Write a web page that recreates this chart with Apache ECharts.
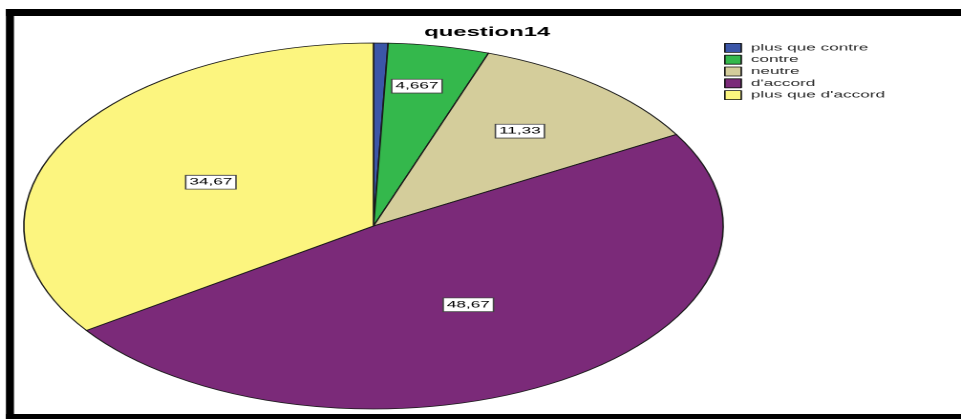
<!DOCTYPE html>
<html>
<head>
<meta charset="utf-8">
<script src="https://cdn.jsdelivr.net/npm/echarts@6/dist/echarts.min.js"></script>
<style>
  html, body { margin: 0; padding: 0; background: #ffffff; overflow: hidden; }
  #wrap { position: relative; width: 961px; height: 419px; overflow: hidden; }
  /* the reference picture is a horizontally stretched SPSS chart: draw it narrow, then stretch */
  #chart { position: absolute; left: 0; top: 0; width: 503px; height: 419px;
           transform: scaleX(1.9105); transform-origin: 0 0; }
</style>
</head>
<body>
<div id="wrap"><div id="chart"></div></div>
<script>
// ---- data ----
const chartTitle = 'question14';
const categories = ['plus que contre', 'contre', 'neutre', "d'accord", "plus que d'accord"];
const percentages = [0.667, 4.667, 11.33, 48.67, 34.67];

// ---- style ----
const sliceColors = ['#3b56a8', '#34b84c', '#d4cd9b', '#7b2a79', '#fcf57f'];
const labelVisible = [false, true, true, true, true];
const labelNudge = [[0, 0], [5, -47], [16.4, -22], [-1, -1], [-1.4, 0]];
const FONT = 'Liberation Sans, Arial, sans-serif';

const chart = echarts.init(document.getElementById('chart'), null, { devicePixelRatio: 2, renderer: 'canvas' });

const pieData = categories.map((name, i) => ({
  name: name,
  value: percentages[i],
  itemStyle: { color: sliceColors[i] },
  label: { show: labelVisible[i], offset: labelNudge[i] }
}));

chart.setOption({
  backgroundColor: 'transparent',
  animation: false,
  title: {
    text: chartTitle,
    left: 222,
    top: 26,
    padding: 0,
    textStyle: { fontFamily: FONT, fontSize: 12.5, fontWeight: 'bold', color: '#000' }
  },
  legend: {
    orient: 'vertical',
    left: 379,
    top: 43,
    padding: 0,
    itemWidth: 8.6,
    itemHeight: 9,
    itemGap: 2,
    icon: 'rect',
    selectedMode: false,
    data: categories,
    itemStyle: { borderColor: '#111', borderWidth: 0.8 },
    textStyle: { fontFamily: FONT, fontSize: 9, color: '#2a2a2a' }
  },
  graphic: [
    { type: 'rect', shape: { x: 3.1, y: 9, width: 500, height: 7 }, style: { fill: '#000' }, silent: true },
    { type: 'rect', shape: { x: 3.1, y: 9, width: 4.2, height: 410 }, style: { fill: '#000' }, silent: true },
    { type: 'rect', shape: { x: 3.1, y: 414, width: 500, height: 5 }, style: { fill: '#000' }, silent: true }
  ],
  series: [{
    type: 'pie',
    center: [195.5, 226],
    radius: [0, 183],
    startAngle: 90,
    clockwise: true,
    avoidLabelOverlap: false,
    data: pieData,
    itemStyle: { borderColor: '#1a1a1a', borderWidth: 0.8 },
    label: {
      position: 'inside',
      formatter: p => String(p.value).replace('.', ','),
      fontFamily: FONT,
      fontSize: 9,
      color: '#000',
      backgroundColor: '#ffffff',
      borderColor: '#444',
      borderWidth: 0.8,
      padding: [2, 1.5, 1, 1.5],
      lineHeight: 10
    },
    labelLine: { show: false },
    emphasis: { disabled: true }
  }]
});
</script>
</body>
</html>
